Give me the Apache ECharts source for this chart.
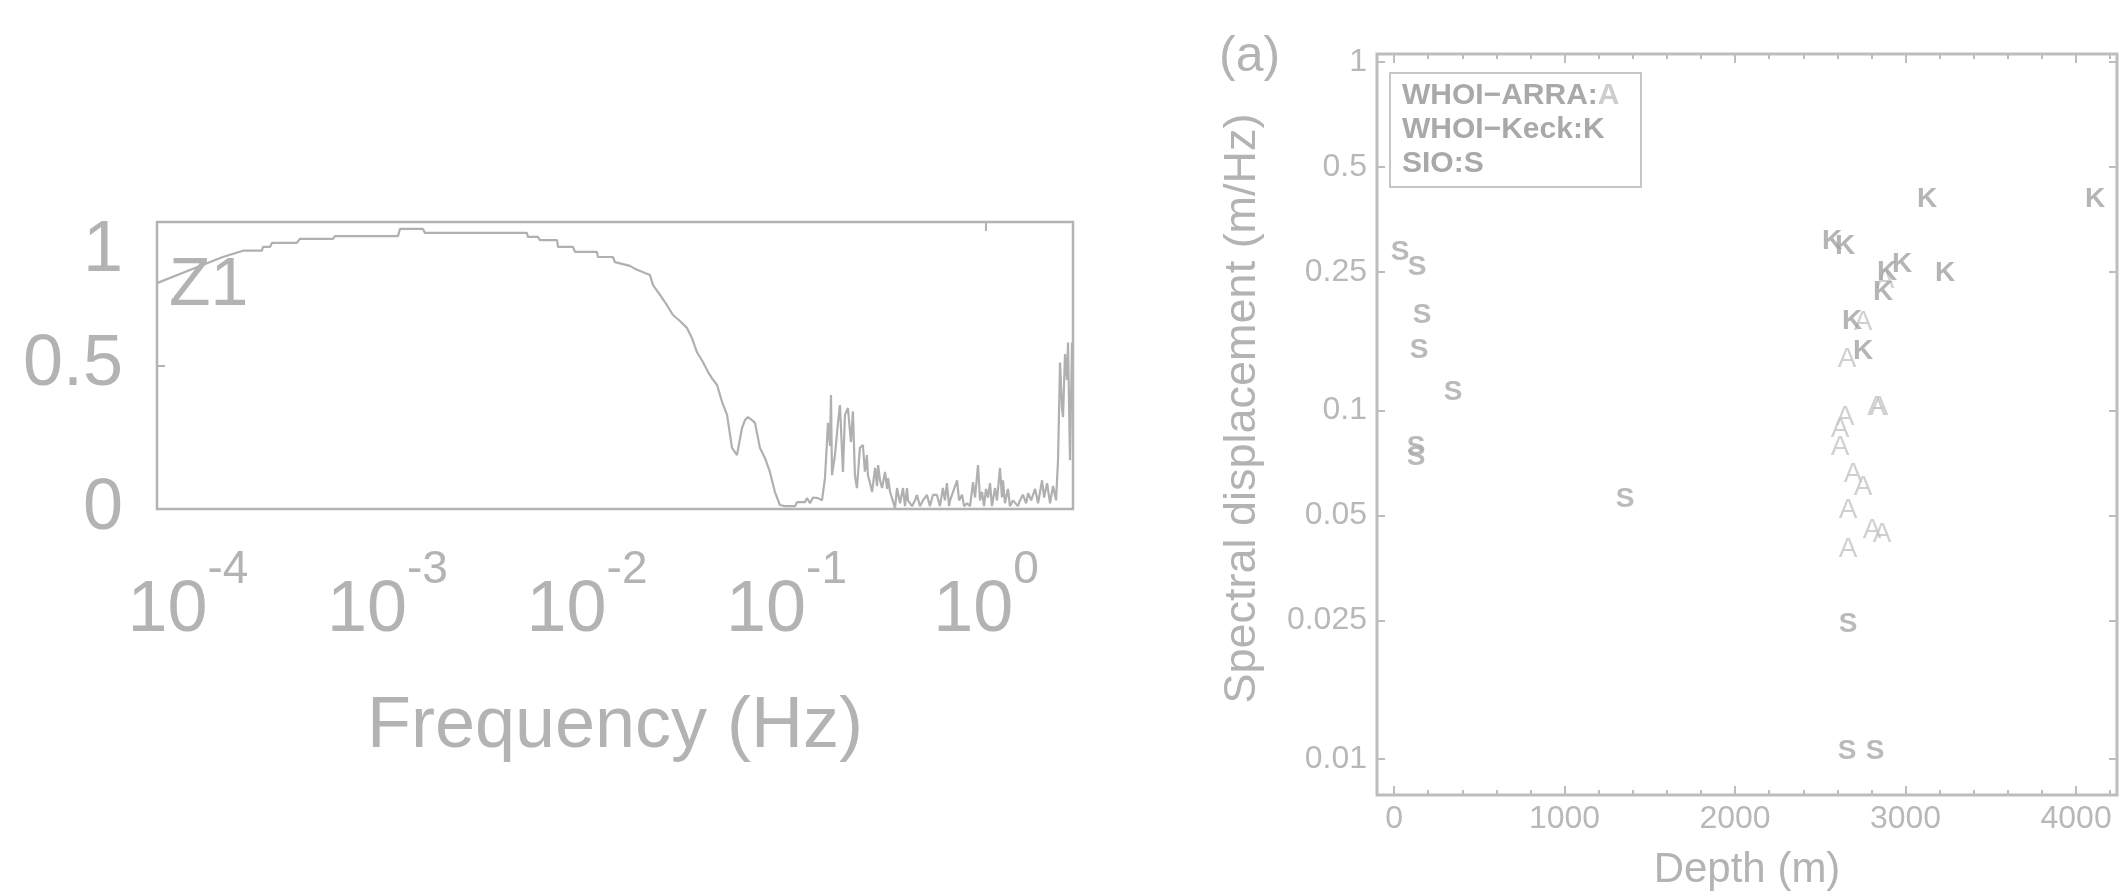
<!DOCTYPE html>
<html>
<head>
<meta charset="utf-8">
<script src="https://cdn.jsdelivr.net/npm/echarts@6/dist/echarts.min.js"></script>
<style>
html,body{margin:0;padding:0;background:#fff;}
#chart{width:2121px;height:896px;}
</style>
</head>
<body>
<div id="chart"></div>
<script>
// ---- Left panel: coherence Z1 vs frequency (log10 Hz) ----
const freqLog10 = [-4.155,-3.990,-3.825,-3.724,-3.629,-3.624,-3.589,-3.579,-3.454,-3.439,-3.273,-3.263,-2.947,-2.937,-2.822,-2.812,-2.301,-2.296,-2.246,-2.236,-2.150,-2.145,-2.070,-2.060,-1.950,-1.945,-1.870,-1.860,-1.785,-1.754,-1.709,-1.684,-1.669,-1.634,-1.599,-1.569,-1.534,-1.499,-1.474,-1.449,-1.419,-1.393,-1.373,-1.348,-1.323,-1.298,-1.273,-1.248,-1.223,-1.208,-1.193,-1.173,-1.158,-1.133,-1.108,-1.083,-1.058,-1.033,-1.008,-0.957,-0.947,-0.907,-0.897,-0.882,-0.867,-0.842,-0.822,-0.807,-0.792,-0.782,-0.777,-0.772,-0.757,-0.742,-0.732,-0.717,-0.707,-0.692,-0.677,-0.667,-0.657,-0.647,-0.632,-0.617,-0.607,-0.597,-0.592,-0.581,-0.571,-0.556,-0.546,-0.541,-0.531,-0.521,-0.506,-0.496,-0.491,-0.481,-0.471,-0.456,-0.446,-0.431,-0.416,-0.406,-0.396,-0.391,-0.371,-0.356,-0.346,-0.331,-0.316,-0.296,-0.281,-0.266,-0.246,-0.231,-0.216,-0.206,-0.196,-0.185,-0.180,-0.165,-0.145,-0.135,-0.120,-0.110,-0.095,-0.080,-0.065,-0.055,-0.040,-0.030,-0.020,-0.010,0.000,0.010,0.020,0.030,0.045,0.055,0.070,0.080,0.085,0.095,0.110,0.120,0.135,0.160,0.170,0.185,0.201,0.211,0.226,0.246,0.261,0.281,0.291,0.306,0.321,0.336,0.351,0.361,0.371,0.381,0.386,0.396,0.406,0.411,0.421,0.431];
const coherenceZ1 = [0.787,0.833,0.878,0.900,0.900,0.913,0.913,0.927,0.927,0.941,0.941,0.951,0.951,0.976,0.976,0.962,0.962,0.948,0.948,0.937,0.937,0.913,0.913,0.896,0.896,0.878,0.878,0.860,0.847,0.835,0.822,0.815,0.780,0.746,0.710,0.676,0.655,0.631,0.596,0.547,0.512,0.477,0.455,0.432,0.373,0.328,0.213,0.188,0.282,0.310,0.320,0.310,0.300,0.213,0.178,0.129,0.059,0.014,0.010,0.010,0.024,0.024,0.038,0.020,0.040,0.038,0.030,0.108,0.300,0.220,0.397,0.118,0.188,0.300,0.362,0.129,0.328,0.352,0.233,0.340,0.118,0.073,0.213,0.223,0.130,0.188,0.118,0.090,0.059,0.143,0.080,0.153,0.100,0.073,0.129,0.070,0.108,0.060,0.038,0.003,0.073,0.020,0.073,0.010,0.073,0.030,0.010,0.030,0.049,0.010,0.030,0.049,0.010,0.049,0.049,0.010,0.073,0.030,0.090,0.010,0.030,0.060,0.100,0.030,0.050,0.010,0.020,0.010,0.094,0.040,0.153,0.030,0.060,0.010,0.070,0.040,0.090,0.010,0.073,0.030,0.143,0.040,0.100,0.020,0.070,0.010,0.030,0.010,0.030,0.050,0.020,0.055,0.030,0.070,0.020,0.100,0.040,0.090,0.020,0.080,0.030,0.170,0.510,0.350,0.320,0.540,0.450,0.580,0.170,0.580];
const freqTickExponents = [-4, -3, -2, -1, 0];
const coherenceTicks = [0, 0.5, 1];

// ---- Right panel: spectral displacement vs depth ----
const depthARRA = [2751, 2657, 2880, 2830, 2845, 2645, 2616, 2616, 2692, 2751, 2663, 2804, 2862, 2663];
const dispARRA  = [0.179, 0.140, 0.237, 0.102, 0.102, 0.0955, 0.0882, 0.0783, 0.0656, 0.0601, 0.0517, 0.0453, 0.0441, 0.0400];
const depthKeck = [3126, 4111, 2569, 2645, 2979, 2891, 2868, 3232, 2686, 2751];
const dispKeck  = [0.403, 0.403, 0.305, 0.295, 0.262, 0.250, 0.218, 0.248, 0.180, 0.148];
const depthSIO  = [35, 135, 164, 147, 346, 129, 129, 1355, 2663, 2657, 2821];
const dispSIO   = [0.284, 0.257, 0.188, 0.149, 0.113, 0.0783, 0.0733, 0.0556, 0.0244, 0.01054, 0.01054];
const dispTicks = [0.01, 0.025, 0.05, 0.1, 0.25, 0.5, 1];
const depthTicks = [0, 1000, 2000, 3000, 4000];
const depthMinorTicks = [];
for (let d = 0; d <= 4200; d += 200) depthMinorTicks.push(d);

const GRAY = '#b3b3b3';
const FONT = '"Liberation Sans", Arial, Helvetica, sans-serif';
const NARROW = '"Liberation Sans Narrow", "Arial Narrow", "Liberation Sans", Arial, sans-serif';

const chart = echarts.init(document.getElementById('chart'), null, {renderer: 'canvas'});

function pairs(xs, ys, fx, fy) {
  return xs.map((x, i) => [fx ? fx(x) : x, fy ? fy(ys[i]) : ys[i]]);
}

const dispLogTicks = dispTicks.map(v => Math.log10(v));
const dispFmt = v => String(Number(Math.pow(10, v).toPrecision(3)));

function letterSeries(name, xs, ys, letter, color, weight) {
  return {
    type: 'scatter', name: name, xAxisIndex: 2, yAxisIndex: 1,
    data: pairs(xs, ys, null, Math.log10),
    symbol: 'circle', symbolSize: 1, itemStyle: {color: 'rgba(255,255,255,0)'},
    label: {show: true, position: 'inside', formatter: letter,
      color: color, fontSize: 28, fontWeight: weight, fontFamily: FONT},
    emphasis: {disabled: true}, silent: true, z: 5
  };
}

const noZero = {show: false, onZero: false};

const option = {
  backgroundColor: '#ffffff',
  animation: false,
  textStyle: {fontFamily: FONT},
  title: [
    {text: 'Z1', left: 169, top: 252, padding: 0,
      textStyle: {fontSize: 68, fontWeight: 'normal', color: GRAY, fontFamily: FONT}},
    {text: '(a)', left: 1219, top: 32, padding: 0,
      textStyle: {fontSize: 50, fontWeight: 'normal', color: GRAY, fontFamily: FONT}},
    {text: '{n|WHOI\u2212ARRA:}{a|A}\n{n|WHOI\u2212Keck:K}\n{n|SIO:S}',
      left: 1390, top: 73, padding: [6, 22, 6, 12],
      borderColor: '#c6c6c6', borderWidth: 2,
      textStyle: {lineHeight: 34,
        rich: {
          n: {fontSize: 30, fontWeight: 'bold', color: '#a9a9a9', fontFamily: FONT, lineHeight: 34},
          a: {fontSize: 30, fontWeight: 'bold', color: '#cdcdcd', fontFamily: FONT, lineHeight: 34}
        }}}
  ],
  grid: [
    {left: 157, top: 222, width: 916, height: 287, show: true, borderColor: GRAY, borderWidth: 2.5,
      backgroundColor: 'transparent', containLabel: false, outerBoundsMode: 'none'},
    {left: 1377, top: 54, width: 740, height: 741, show: true, borderColor: '#bdbdbd', borderWidth: 3,
      backgroundColor: 'transparent', containLabel: false, outerBoundsMode: 'none'}
  ],
  xAxis: [
    {type: 'value', gridIndex: 0, position: 'bottom', min: -4.155, max: 0.436,
      axisLine: noZero, splitLine: {show: false},
      axisTick: {show: false},
      axisLabel: {show: true, customValues: freqTickExponents, margin: 38,
        formatter: v => '{b|10}{e|' + v + '}',
        rich: {
          b: {fontSize: 72, color: GRAY, fontFamily: FONT, verticalAlign: 'bottom', lineHeight: 100},
          e: {fontSize: 46, color: GRAY, fontFamily: NARROW, verticalAlign: 'top', lineHeight: 14}
        }},
      name: 'Frequency (Hz)', nameLocation: 'middle', nameGap: 182,
      nameTextStyle: {fontSize: 72, color: GRAY, fontFamily: FONT}},
    {type: 'value', gridIndex: 0, position: 'top', min: -4.155, max: 0.436,
      axisLine: noZero, splitLine: {show: false}, axisLabel: {show: false},
      axisTick: {show: true, inside: true, length: 9, customValues: [0], lineStyle: {color: GRAY, width: 2}}},
    {type: 'value', gridIndex: 1, position: 'bottom', min: -100, max: 4240,
      axisLine: noZero, splitLine: {show: false},
      axisTick: {show: true, inside: true, length: 9, customValues: depthTicks, lineStyle: {color: '#bdbdbd', width: 2}},
      axisLabel: {show: true, customValues: depthTicks, margin: 8, fontSize: 32, color: '#b8b8b8', fontFamily: FONT,
        formatter: v => String(v)},
      name: 'Depth (m)', nameLocation: 'middle', nameGap: 54,
      nameTextStyle: {fontSize: 42, color: GRAY, fontFamily: FONT}},
    {type: 'value', gridIndex: 1, position: 'bottom', min: -100, max: 4240,
      axisLine: noZero, splitLine: {show: false}, axisLabel: {show: false},
      axisTick: {show: true, inside: true, length: 5, customValues: depthMinorTicks, lineStyle: {color: '#bdbdbd', width: 2}}},
    {type: 'value', gridIndex: 1, position: 'top', min: -100, max: 4240,
      axisLine: noZero, splitLine: {show: false}, axisLabel: {show: false},
      axisTick: {show: true, inside: true, length: 9, customValues: depthTicks, lineStyle: {color: '#bdbdbd', width: 2}}},
    {type: 'value', gridIndex: 1, position: 'top', min: -100, max: 4240,
      axisLine: noZero, splitLine: {show: false}, axisLabel: {show: false},
      axisTick: {show: true, inside: true, length: 5, customValues: depthMinorTicks, lineStyle: {color: '#bdbdbd', width: 2}}}
  ],
  yAxis: [
    {type: 'value', gridIndex: 0, position: 'left', min: 0, max: 1,
      axisLine: noZero, splitLine: {show: false},
      axisTick: {show: true, inside: true, length: 8, customValues: [0.5], lineStyle: {color: GRAY, width: 2}},
      axisLabel: {show: true, customValues: coherenceTicks, margin: 34, fontSize: 72, lineHeight: 58, color: GRAY, fontFamily: FONT,
        verticalAlignMaxLabel: 'top', formatter: v => String(v)}},
    {type: 'value', gridIndex: 1, position: 'left', min: Math.log10(0.00789), max: Math.log10(1.054),
      axisLine: noZero, splitLine: {show: false},
      axisTick: {show: true, inside: true, length: 8, customValues: dispLogTicks, lineStyle: {color: '#bdbdbd', width: 2}},
      axisLabel: {show: true, customValues: dispLogTicks, margin: 10, fontSize: 32, color: '#b8b8b8', fontFamily: FONT,
        formatter: dispFmt},
      name: 'Spectral displacement (m/Hz)', nameLocation: 'middle', nameGap: 112, nameRotate: 90,
      nameTextStyle: {fontSize: 45, color: GRAY, fontFamily: FONT, padding: [0, 0, 0, 32]}},
    {type: 'value', gridIndex: 1, position: 'right', min: Math.log10(0.00789), max: Math.log10(1.054),
      axisLine: noZero, splitLine: {show: false}, axisLabel: {show: false},
      axisTick: {show: true, inside: true, length: 8, customValues: dispLogTicks, lineStyle: {color: '#bdbdbd', width: 2}}}
  ],
  series: [
    {type: 'line', name: 'Z1', xAxisIndex: 0, yAxisIndex: 0,
      data: pairs(freqLog10, coherenceZ1),
      showSymbol: false, symbol: 'none', smooth: false,
      lineStyle: {color: '#b0b0b0', width: 2.2}, silent: true, z: 3},
    letterSeries('WHOI-ARRA', depthARRA, dispARRA, 'A', '#c4c4c4', 'normal'),
    letterSeries('WHOI-Keck', depthKeck, dispKeck, 'K', '#a3a3a3', 'bold'),
    letterSeries('SIO', depthSIO, dispSIO, 'S', '#a9a9a9', 'bold')
  ]
};
chart.setOption(option);
</script>
</body>
</html>
